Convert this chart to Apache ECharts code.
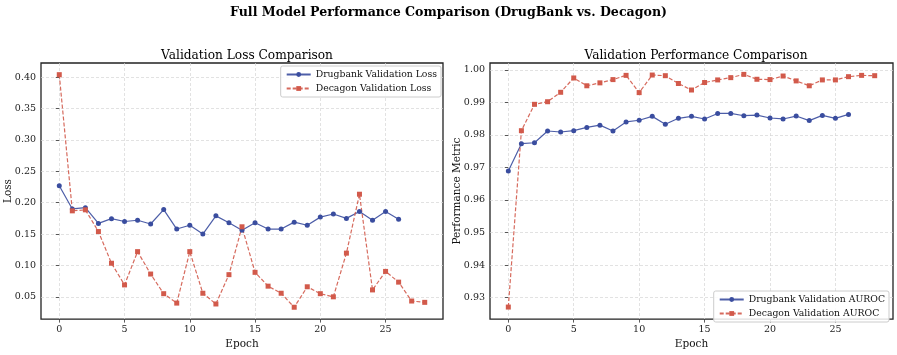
<!DOCTYPE html>
<html>
<head>
<meta charset="utf-8">
<script src="https://cdn.jsdelivr.net/npm/echarts@6/dist/echarts.min.js"></script>
<style>html,body{margin:0;padding:0;background:#fff}#c{width:897px;height:355px}</style>
</head>
<body>
<div id="c"></div>
<script>
const epochsDrugbank = [0,1,2,3,4,5,6,7,8,9,10,11,12,13,14,15,16,17,18,19,20,21,22,23,24,25,26];
const epochsDecagon = [0,1,2,3,4,5,6,7,8,9,10,11,12,13,14,15,16,17,18,19,20,21,22,23,24,25,26,27,28];
const drugbankLoss = [0.227,0.190,0.192,0.167,0.1746,0.170,0.172,0.166,0.189,0.158,0.164,0.150,0.179,0.168,0.156,0.168,0.158,0.158,0.169,0.164,0.177,0.182,0.175,0.186,0.172,0.186,0.1735];
const decagonLoss = [0.404,0.187,0.1886,0.154,0.1035,0.069,0.122,0.0863,0.055,0.040,0.122,0.0557,0.0386,0.0853,0.1616,0.089,0.067,0.0557,0.0334,0.066,0.055,0.050,0.1196,0.2135,0.061,0.0905,0.0734,0.0433,0.0412];
const drugbankAuroc = [0.9689,0.9773,0.9776,0.9812,0.9809,0.9813,0.9823,0.9830,0.9812,0.9840,0.9845,0.9857,0.9833,0.9851,0.9857,0.9849,0.9866,0.9866,0.9859,0.9861,0.9852,0.9849,0.9858,0.9844,0.9860,0.9851,0.9863];
const decagonAuroc = [0.9271,0.9813,0.9894,0.9902,0.9931,0.9975,0.9951,0.9960,0.9970,0.9983,0.9930,0.9984,0.9982,0.9958,0.9938,0.9961,0.9969,0.9976,0.9986,0.9971,0.9970,0.9981,0.9966,0.9951,0.9969,0.9969,0.9979,0.9983,0.9982];
const xTicks = [0,5,10,15,20,25];
const lossTicks = [0.05,0.10,0.15,0.20,0.25,0.30,0.35,0.40];
const aurocTicks = [0.93,0.94,0.95,0.96,0.97,0.98,0.99,1.00];

const BLUE = '#3a4d9f';
const RED = '#d25a4b';
const FONT = 'DejaVu Serif';
const pair = (xs, ys) => xs.map((x, i) => [x, ys[i]]);

function xAxis(gi) {
  return {
    type: 'value', gridIndex: gi, min: -1.4, max: 29.4,
    name: 'Epoch', nameLocation: 'middle', nameGap: 18,
    nameTextStyle: {fontFamily: FONT, fontSize: 10.5, color: '#111'},
    axisLine: {show: false},
    axisTick: {show: true, customValues: xTicks, length: 3.5, lineStyle: {color: '#333', width: 0.8}},
    axisLabel: {customValues: xTicks, fontFamily: FONT, fontSize: 9.5, color: '#222', margin: 5, formatter: v => String(v)},
    splitLine: {show: true, lineStyle: {type: [3, 2], color: '#d6d6d6', width: 0.7}}
  };
}
function yAxis(gi, min, max, ticks, name, gap) {
  return {
    type: 'value', gridIndex: gi, min: min, max: max,
    name: name, nameLocation: 'middle', nameGap: gap, nameRotate: 90, nameMoveOverlap: false,
    nameTextStyle: {fontFamily: FONT, fontSize: 10.5, color: '#111'},
    axisLine: {show: false},
    axisTick: {show: true, customValues: ticks, length: 3.5, lineStyle: {color: '#333', width: 0.8}},
    axisLabel: {customValues: ticks, fontFamily: FONT, fontSize: 9.5, color: '#222', margin: 5, formatter: v => v.toFixed(2)},
    splitLine: {show: true, lineStyle: {type: [3, 2], color: '#d6d6d6', width: 0.7}}
  };
}
function lineSeries(name, xi, data, color, dashed, symbol) {
  return {
    name: name, type: 'line', xAxisIndex: xi, yAxisIndex: xi, data: data,
    symbol: symbol, symbolSize: 5,
    showSymbol: true, animation: false,
    lineStyle: {color: color, width: 1.2, type: dashed ? [4, 2] : 'solid', opacity: 0.9},
    itemStyle: {color: color},
    emphasis: {disabled: true}
  };
}
const legendCommon = {
  orient: 'vertical', itemWidth: 24, itemHeight: 6, itemGap: 5,
  textStyle: {fontFamily: FONT, fontSize: 9.3, color: '#111'},
  backgroundColor: 'rgba(255,255,255,0.85)', borderColor: '#cccccc', borderWidth: 1, borderRadius: 2,
  padding: [4, 4, 4, 5], align: 'left'
};
const chart = echarts.init(document.getElementById('c'), null, {renderer: 'canvas'});
chart.setOption({
  backgroundColor: '#fff',
  animation: false,
  title: [
    {text: 'Full Model Performance Comparison (DrugBank vs. Decagon)', left: 'center', top: 1,
     textStyle: {fontFamily: FONT, fontSize: 12.6, fontWeight: 'bold', color: '#000'}},
    {text: 'Validation Loss Comparison', left: 242, top: 45, textAlign: 'center',
     textStyle: {fontFamily: FONT, fontSize: 12.2, fontWeight: 'normal', color: '#000'}},
    {text: 'Validation Performance Comparison', left: 691, top: 45, textAlign: 'center',
     textStyle: {fontFamily: FONT, fontSize: 12.2, fontWeight: 'normal', color: '#000'}}
  ],
  grid: [
    {left: 41, right: 454, top: 63, bottom: 30, show: true, borderColor: '#222', borderWidth: 1.3, backgroundColor: 'transparent'},
    {left: 490, right: 4, top: 63, bottom: 30, show: true, borderColor: '#222', borderWidth: 1.3, backgroundColor: 'transparent'}
  ],
  xAxis: [xAxis(0), xAxis(1)],
  yAxis: [
    yAxis(0, 0.0145, 0.4226, lossTicks, 'Loss', 27),
    yAxis(1, 0.9234, 1.0021, aurocTicks, 'Performance Metric', 27)
  ],
  legend: [
    Object.assign({}, legendCommon, {right: 456, top: 66, data: ['Drugbank Validation Loss', 'Decagon Validation Loss']}),
    Object.assign({}, legendCommon, {right: 8, top: 291, data: ['Drugbank Validation AUROC', 'Decagon Validation AUROC']})
  ],
  series: [
    lineSeries('Drugbank Validation Loss', 0, pair(epochsDrugbank, drugbankLoss), BLUE, false, 'circle'),
    lineSeries('Decagon Validation Loss', 0, pair(epochsDecagon, decagonLoss), RED, true, 'rect'),
    lineSeries('Drugbank Validation AUROC', 1, pair(epochsDrugbank, drugbankAuroc), BLUE, false, 'circle'),
    lineSeries('Decagon Validation AUROC', 1, pair(epochsDecagon, decagonAuroc), RED, true, 'rect')
  ]
});
</script>
</body>
</html>
